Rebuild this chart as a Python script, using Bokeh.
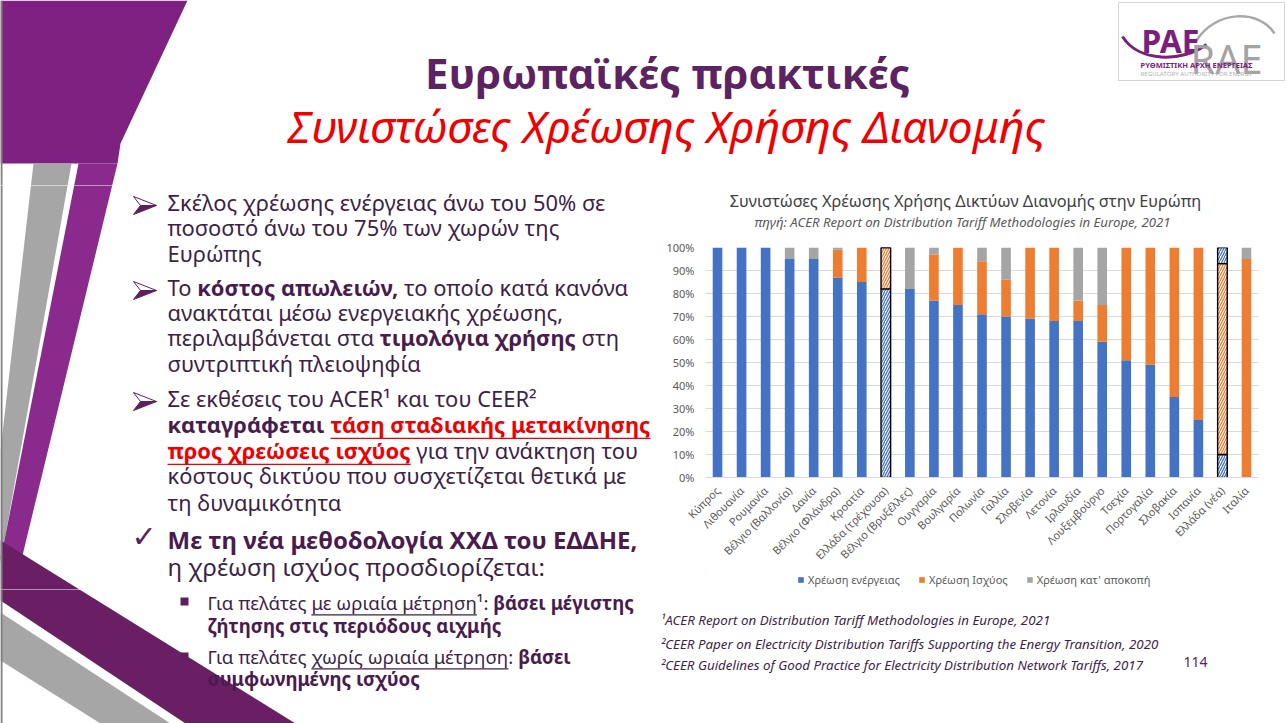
import math, os, subprocess
import numpy as np
from bokeh.plotting import figure
from bokeh.models import (ColumnDataSource, Range1d, FactorRange, FixedTicker,
                          NumeralTickFormatter, Legend, LegendItem)
from bokeh.layouts import column, row
from bokeh.core.properties import value
from bokeh.embed import file_html
from bokeh.resources import INLINE

# ---------------- chart data ----------------
countries = ["Κύπρος", "Λιθουανία", "Ρουμανία", "Βέλγιο (Βαλλονία)", "Δανία",
             "Βέλγιο (Φλάνδρα)", "Κροατία", "Ελλάδα (τρέχουσα)", "Βέλγιο (Βρυξέλλες)",
             "Ουγγαρία", "Βουλγαρία", "Πολωνία", "Γαλλία", "Σλοβενία", "Λετονία",
             "Ιρλανδία", "Λουξεμβούργο", "Τσεχία", "Πορτογαλία", "Σλοβακία",
             "Ισπανία", "Ελλάδα (νέα)", "Ιταλία"]
energy_share = [100, 100, 100, 95, 95, 87, 85, 82, 82, 77, 75, 71, 70, 69, 68, 68, 59, 51, 49, 35, 25, 10, 0]
power_share = [0, 0, 0, 0, 0, 12, 15, 18, 0, 20, 25, 23, 16, 31, 32, 9, 16, 49, 51, 65, 75, 83, 95]
flat_share = [0, 0, 0, 5, 5, 1, 0, 0, 18, 3, 0, 6, 14, 0, 0, 23, 25, 0, 0, 0, 0, 7, 5]
greek_cases = ["Ελλάδα (τρέχουσα)", "Ελλάδα (νέα)"]
series_names = ["Χρέωση ενέργειας", "Χρέωση Ισχύος", "Χρέωση κατ' αποκοπή"]
y_ticks = [0, 10, 20, 30, 40, 50, 60, 70, 80, 90, 100]

chart_title = "Συνιστώσες Χρέωσης Χρήσης Δικτύων Διανομής στην Ευρώπη"
chart_subtitle = "πηγή: ACER Report on Distribution Tariff Methodologies in Europe, 2021"

# ---------------- font measuring ----------------
FAM = "Noto Sans"
_files = {}
_pil = {}
_PAT = {"normal": "", "bold": ":bold", "italic": ":italic", "bold italic": ":bold:italic"}


def font_file(family, style):
    key = (family, style)
    if key not in _files:
        path = None
        try:
            r = subprocess.run(["fc-match", "-f", "%{file}", family + _PAT[style]],
                               capture_output=True, text=True, timeout=10)
            f = r.stdout.strip()
            if f and os.path.exists(f):
                path = f
        except Exception:
            path = None
        _files[key] = path
    return _files[key]


def text_width(s, family, style, size):
    try:
        from PIL import ImageFont
        key = (family, style)
        if key not in _pil:
            path = font_file(family, style)
            f = ImageFont.truetype(path, 100)
            if "bold" in style and path == font_file(family, "normal"):
                try:
                    for nm in f.get_variation_names():
                        if (nm.decode() if isinstance(nm, bytes) else nm).lower() == "bold":
                            f.set_variation_by_name(nm)
                except Exception:
                    pass
            _pil[key] = f
        return _pil[key].getlength(s) * size / 100.0
    except Exception:
        return len(s) * size * (0.6 if "bold" in style else 0.55)


def fit(s, style, width, family=FAM):
    return width / text_width(s, family, style, 1.0)


def fit_segs(segs, width):
    return width / sum(text_width(s, FAM, st, 1.0) for s, st, _c, _u in segs)


def px(v):
    return "%.2fpx" % v


# ---------------- colours ----------------
BODY = "#3E1F46"
BOLD_BODY = "#4A1B4E"
TITLE_PURPLE = "#5C2262"
RED = "#F00000"
DARK_PURPLE = "#5E1F60"
TOP_PURPLE = "#7F2180"
STRIPE_PURPLE = "#8A2A8C"
BAND_PURPLE = "#6A1F64"
GRAY = "#A6A6A6"
SERIES_COLORS = ["#4472C4", "#ED7D31", "#A5A5A5"]
HATCH_COLORS = ["#4472C4", "#ED7D31", "#4472C4"]

# layout geometry in slide pixels
FRAME_L, FRAME_R, FRAME_T, FRAME_B = 705, 1258, 247, 479
COL_L, COL_R = 655, 1286
TOP_H = 185          # end of title band
SPLIT = 589          # start of bottom band
W, H = 1286, 723


def canvas(w, h, x0, x1, y0, y1, bl=0, br=0):
    f = figure(width=w, height=h, x_range=Range1d(x0, x1), y_range=Range1d(y1, y0),
               output_backend="svg", toolbar_location=None, min_border=0,
               min_border_left=bl, min_border_right=br,
               x_axis_type=None, y_axis_type=None, outline_line_color=None, align="start")
    f.background_fill_color = "white"
    f.border_fill_color = "white"
    return f


# decoration shapes (slide coordinates, y downward)
SHAPES = [
    ([0, 187, 120, 117, 0], [0, 0, 143, 163, 163], TOP_PURPLE),
    ([33, 71, 0, 0], [163, 163, 563, 450], GRAY),
    ([78, 117, 22, 0, 0], [163, 163, 555, 555, 560], STRIPE_PURPLE),
    ([0, 295, 185, 0], [540, 723, 723, 600], BAND_PURPLE),
    ([0, 170, 100, 0], [612, 723, 723, 660], GRAY),
]


def draw_shapes(f):
    for xs, ys, c in SHAPES:
        f.patch(xs, ys, fill_color=c, line_color=None)
    f.segment(x0=[1], y0=[0], x1=[1], y1=[H], line_color="#7F7F7F", line_width=2)


def draw_text(f, x, y, s, style, size, color, align="left", baseline="middle", family=FAM):
    dy = -0.14 * size if baseline == "middle" else 0.0
    f.text(x=[x], y=[y + dy], text=[s], text_font=value(family), text_font_style=style,
           text_font_size=value(px(size)), text_color=color, text_align=align,
           text_baseline=baseline)


def draw_segments(f, x0, y, segs, size):
    x = x0
    for s, style, color, und in segs:
        stripped = s.lstrip(" ")
        lead = len(s) - len(stripped)
        if lead:
            x += text_width(" " * lead, FAM, style, size)
        body = stripped.rstrip(" ")
        draw_text(f, x, y, body, style, size, color)
        w_body = text_width(body, FAM, style, size)
        if und:
            f.segment(x0=[x], y0=[y + 0.5 * size], x1=[x + w_body], y1=[y + 0.5 * size],
                      line_color=color, line_width=1.3)
        x += text_width(stripped, FAM, style, size)


# ---------------- top band (titles + logo) ----------------
top = canvas(W, TOP_H, 0, W, 0, TOP_H)
draw_shapes(top)
t1 = "Ευρωπαϊκές πρακτικές"
t2 = "Συνιστώσες Χρέωσης Χρήσης Διανομής"
draw_text(top, 667, 78, t1, "bold", fit(t1, "bold", 485), TITLE_PURPLE, align="center")
draw_text(top, 666, 131, t2, "italic", fit(t2, "italic", 758), RED, align="center")

# logo
top.quad(left=[1118], right=[1284], top=[2], bottom=[80], fill_color="white",
         line_color="#D5D5D5", line_width=1)
top.bezier(x0=[1122], y0=[36], x1=[1206], y1=[44], cx0=[1138], cy0=[62], cx1=[1182], cy1=[62],
           line_color="#7A1F7A", line_width=3)
top.bezier(x0=[1196], y0=[40], x1=[1274], y1=[33], cx0=[1215], cy0=[10], cx1=[1258], cy1=[8],
           line_color="#A8A8A8", line_width=2.5)
draw_text(top, 1141, 40, "PAE", "bold", fit("PAE", "bold", 58), "#7A1F7A", baseline="alphabetic")
draw_text(top, 1190, 58, "RAE", "normal", fit("RAE", "normal", 72), "#A3A3A3", baseline="alphabetic")
s1 = "ΡΥΘΜΙΣΤΙΚΗ ΑΡΧΗ ΕΝΕΡΓΕΙΑΣ"
s2 = "REGULATORY AUTHORITY FOR ENERGY"
draw_text(top, 1140, 66, s1, "bold", fit(s1, "bold", 112), "#7A1F7A")
draw_text(top, 1140, 74, s2, "normal", fit(s2, "normal", 112), "#B0B0B0")

# ---------------- left column (bullets) ----------------
left = canvas(COL_L, SPLIT - TOP_H, 0, COL_L, TOP_H, SPLIT)
draw_shapes(left)

N, B = "normal", "bold"
L1 = fit("Σκέλος χρέωσης ενέργειας άνω του 50% σε", "normal", 438)
L2 = fit("Με τη νέα μεθοδολογία ΧΧΔ του ΕΔΔΗΕ,", "bold", 470)

body_lines = [
    (205, [("Σκέλος χρέωσης ενέργειας άνω του 50% σε", N, BODY, False)]),
    (230, [("ποσοστό άνω του 75% των χωρών της", N, BODY, False)]),
    (256, [("Ευρώπης", N, BODY, False)]),
    (290, [("Το ", N, BODY, False), ("κόστος απωλειών,", B, BOLD_BODY, False),
           (" το οποίο κατά κανόνα", N, BODY, False)]),
    (315, [("ανακτάται μέσω ενεργειακής χρέωσης,", N, BODY, False)]),
    (340, [("περιλαμβάνεται στα ", N, BODY, False), ("τιμολόγια χρήσης", B, BOLD_BODY, False),
           (" στη", N, BODY, False)]),
    (366, [("συντριπτική πλειοψηφία", N, BODY, False)]),
    (401, [("Σε εκθέσεις του ACER¹ και του CEER²", N, BODY, False)]),
    (427, [("καταγράφεται ", B, BOLD_BODY, False), ("τάση σταδιακής μετακίνησης", B, RED, True)]),
    (453, [("προς χρεώσεις ισχύος", B, RED, True), (" για την ανάκτηση του", N, BODY, False)]),
    (478, [("κόστους δικτύου που συσχετίζεται θετικά με", N, BODY, False)]),
    (505, [("τη δυναμικότητα", N, BODY, False)]),
]
for y, segs in body_lines:
    draw_segments(left, 167, y, segs, L1)

# arrow bullets
for yc in [205, 290, 401]:
    left.patch([133, 156, 140], [yc - 9, yc, yc], fill_color="white", line_color=DARK_PURPLE, line_width=1)
    left.patch([140, 156, 133], [yc, yc, yc + 9], fill_color=DARK_PURPLE, line_color=DARK_PURPLE, line_width=1)

# check mark bullet
draw_text(left, 131, 540, "✓", "normal", 30, DARK_PURPLE, family="DejaVu Sans")
draw_segments(left, 167, 542, [("Με τη νέα μεθοδολογία ΧΧΔ του ΕΔΔΗΕ,", B, BOLD_BODY, False)], L2)
draw_segments(left, 167, 569, [("η χρέωση ισχύος προσδιορίζεται:", N, BODY, False)], L2)

# ---------------- chart heading ----------------
BL, BR = FRAME_L - COL_L, COL_R - FRAME_R
HEAD_B = FRAME_T - 11
head = canvas(COL_R - COL_L, HEAD_B - TOP_H, FRAME_L, FRAME_R, TOP_H, HEAD_B, bl=BL, br=BR)
draw_text(head, 965, 203, chart_title, "normal", fit(chart_title, "normal", 472), "#404040", align="center")
draw_text(head, 962, 223, chart_subtitle, "italic", fit(chart_subtitle, "italic", 416), "#595959", align="center")

# ---------------- chart ----------------
CHART_B = 570
chart = figure(width=COL_R - COL_L, height=CHART_B - HEAD_B,
               x_range=FactorRange(factors=countries, range_padding=0),
               y_range=Range1d(0, 1), output_backend="svg", toolbar_location=None,
               min_border_left=BL, min_border_right=BR, min_border_top=FRAME_T - HEAD_B,
               min_border_bottom=CHART_B - FRAME_B, align="start")
chart.outline_line_color = None
chart.xgrid.grid_line_color = None
chart.ygrid.grid_line_color = "#D9D9D9"
chart.ygrid.ticker = FixedTicker(ticks=[t / 100 for t in y_ticks])
chart.yaxis.ticker = FixedTicker(ticks=[t / 100 for t in y_ticks])
chart.yaxis.formatter = NumeralTickFormatter(format="0%")
chart.yaxis.axis_line_color = None
chart.yaxis.major_tick_line_color = None
chart.yaxis.minor_tick_line_color = None
chart.xaxis.axis_line_color = "#D9D9D9"
chart.xaxis.major_tick_line_color = None
chart.xaxis.major_label_orientation = math.pi / 4
for ax in (chart.xaxis, chart.yaxis):
    ax.major_label_text_font = FAM
    ax.major_label_text_font_size = "11px"
    ax.major_label_text_color = "#595959"

E = np.array(energy_share) / 100.0
P = np.array(power_share) / 100.0
F = np.array(flat_share) / 100.0
bottoms = [np.zeros(len(E)), E, E + P]
tops = [E, E + P, E + P + F]
is_gr = np.array([c in greek_cases for c in countries])
cats_norm = [c for c, g in zip(countries, is_gr) if not g]
cats_gr = [c for c, g in zip(countries, is_gr) if g]

for k in range(3):
    src = ColumnDataSource(dict(x=cats_norm, b=bottoms[k][~is_gr], t=tops[k][~is_gr]))
    chart.vbar(x="x", bottom="b", top="t", width=0.4, source=src,
               fill_color=SERIES_COLORS[k], line_color=None)
for k in range(3):
    srch = ColumnDataSource(dict(x=cats_gr, b=bottoms[k][is_gr], t=tops[k][is_gr]))
    chart.vbar(x="x", bottom="b", top="t", width=0.4, source=srch, fill_color="white",
               hatch_pattern="/", hatch_color=HATCH_COLORS[k], hatch_scale=5, hatch_weight=1.3,
               line_color="black", line_width=1.4)

# ---------------- legend strip ----------------
leg = canvas(COL_R - COL_L, SPLIT - CHART_B, FRAME_L, FRAME_R, CHART_B, SPLIT, bl=BL, br=BR)
items = []
for k in range(3):
    # legend proxies, placed outside the visible range
    r = leg.vbar(x=[0], top=[0], bottom=[0], width=1, fill_color=SERIES_COLORS[k], line_color=None)
    items.append(LegendItem(label=series_names[k], renderers=[r]))
legend = Legend(items=items, orientation="horizontal", location=(797 - FRAME_L, 2),
                label_text_font=FAM, label_text_font_size="11px", label_text_color="#595959",
                glyph_width=7, glyph_height=7, label_height=13, spacing=18, label_standoff=4,
                border_line_color=None, background_fill_alpha=0, padding=0, margin=0)
leg.add_layout(legend)

# ---------------- bottom band (sub bullets + footnotes) ----------------
bottom = canvas(W, H - SPLIT, 0, W, SPLIT, H)
draw_shapes(bottom)
sub_lines = [
    (605, [("Για πελάτες ", N, BODY, False), ("με ωριαία μέτρηση", N, BODY, True),
           ("¹: ", N, BODY, False), ("βάσει μέγιστης", B, BOLD_BODY, False)]),
    (628, [("ζήτησης στις περιόδους αιχμής", B, BOLD_BODY, False)]),
    (659, [("Για πελάτες ", N, BODY, False), ("χωρίς ωριαία μέτρηση", N, BODY, True),
           (": ", N, BODY, False), ("βάσει", B, BOLD_BODY, False)]),
    (681, [("συμφωνημένης ισχύος", B, BOLD_BODY, False)]),
]
L3 = 0.5 * (fit_segs(sub_lines[0][1], 438) + fit_segs(sub_lines[1][1], 286))
for yc in [601, 656]:
    bottom.quad(left=[180], right=[188], top=[yc - 4], bottom=[yc + 4], fill_color=DARK_PURPLE, line_color=None)
for y, segs in sub_lines:
    draw_segments(bottom, 207, y, segs, L3)

fn = ["¹ACER Report on Distribution Tariff Methodologies in Europe, 2021",
      "²CEER Paper on Electricity Distribution Tariffs Supporting the Energy Transition, 2020",
      "²CEER Guidelines of Good Practice for Electricity Distribution Network Tariffs, 2017"]
FS = fit(fn[1], "italic", 498)
for y, s in zip([621, 645, 666], fn):
    draw_text(bottom, 660, y, s, "italic", FS, BODY)
draw_text(bottom, 1183, 663, "114", "normal", fit("114", "normal", 24), TITLE_PURPLE)

right = column(head, chart, leg, spacing=0, align="start")
layout = column(top, row(left, right, spacing=0, align="start"), bottom, spacing=0)
open("out.html", "w").write(file_html(layout, INLINE))
